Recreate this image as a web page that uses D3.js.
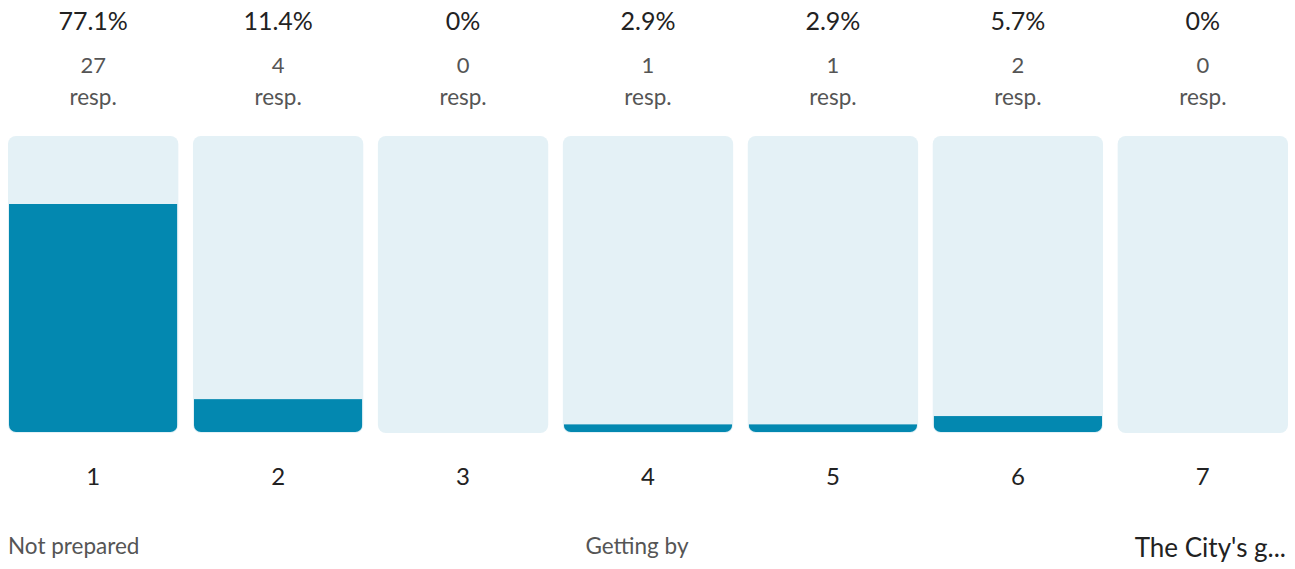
<!DOCTYPE html>
<html><head><meta charset="utf-8">
<script src="https://cdn.jsdelivr.net/npm/d3@7"></script>
<style>html,body{margin:0;padding:0;background:#fff;}svg{display:block;}</style>
</head><body>
<svg id="chart" width="1295" height="569"></svg>
<script>
const categories = ["1","2","3","4","5","6","7"];
const percents = [77.1, 11.4, 0, 2.9, 2.9, 5.7, 0];
const counts = [27, 4, 0, 1, 1, 2, 0];
const percentLabels = ["77.1%","11.4%","0%","2.9%","2.9%","5.7%","0%"];
const scaleLabels = ["Not prepared","Getting by","The City's g..."];

const font = "'Source Sans Pro', Lato, 'Open Sans', sans-serif";
const svg = d3.select("#chart");
const x = d3.scaleBand().domain(categories).range([8, 1288]).paddingInner(0.079).paddingOuter(0);
const y = d3.scaleLinear().domain([0, 100]).range([433, 136]);
const bw = x.bandwidth();

const defs = svg.append("defs");
categories.forEach((c,i)=>{
  defs.append("clipPath").attr("id","clip"+i).append("rect")
    .attr("x", x(c)+1).attr("y", y(100)).attr("width", bw-2).attr("height", y(0)-y(100)-1).attr("rx",7);
});

const g = svg.append("g");
g.selectAll("rect.bg").data(categories).join("rect").attr("class","bg")
  .attr("x", d=>x(d)).attr("y", y(100)).attr("width", bw).attr("height", y(0)-y(100))
  .attr("rx", 8).attr("fill", "#e4f1f6");
g.selectAll("rect.fg").data(categories).join("rect").attr("class","fg")
  .attr("clip-path", (d,i)=>`url(#clip${i})`)
  .attr("x", d=>x(d)+1).attr("y", (d,i)=>y(percents[i])).attr("width", bw-2)
  .attr("height", (d,i)=>y(0)-y(percents[i])).attr("fill", "#0388b0");

const cx = d=>x(d)+bw/2;
g.selectAll("text.pct").data(categories).join("text").attr("class","pct")
  .attr("x", cx).attr("y", 30).attr("text-anchor","middle")
  .attr("font-family", font).attr("font-size", 25).attr("fill","#222")
  .text((d,i)=>percentLabels[i]);
g.selectAll("text.cnt").data(categories).join("text").attr("class","cnt")
  .attr("x", cx).attr("y", 73).attr("text-anchor","middle")
  .attr("font-family", font).attr("font-size", 22).attr("fill","#555")
  .text((d,i)=>counts[i]);
g.selectAll("text.resp").data(categories).join("text").attr("class","resp")
  .attr("x", cx).attr("y", 105).attr("text-anchor","middle")
  .attr("font-family", font).attr("font-size", 22.5).attr("fill","#555")
  .text("resp.");
g.selectAll("text.cat").data(categories).join("text").attr("class","cat")
  .attr("x", cx).attr("y", 485).attr("text-anchor","middle")
  .attr("font-family", font).attr("font-size", 24).attr("fill","#222")
  .text(d=>d);

g.append("text").attr("x", 8).attr("y", 554).attr("font-family", font).attr("font-size", 22.5).attr("fill","#555").text(scaleLabels[0]);
g.append("text").attr("x", cx("4")-11).attr("y", 554).attr("text-anchor","middle").attr("font-family", font).attr("font-size", 22.5).attr("fill","#555").text(scaleLabels[1]);
g.append("text").attr("x", 1286).attr("y", 557).attr("text-anchor","end").attr("font-family", font).attr("font-size", 26).attr("fill","#222").text(scaleLabels[2]);
</script>
</body></html>
